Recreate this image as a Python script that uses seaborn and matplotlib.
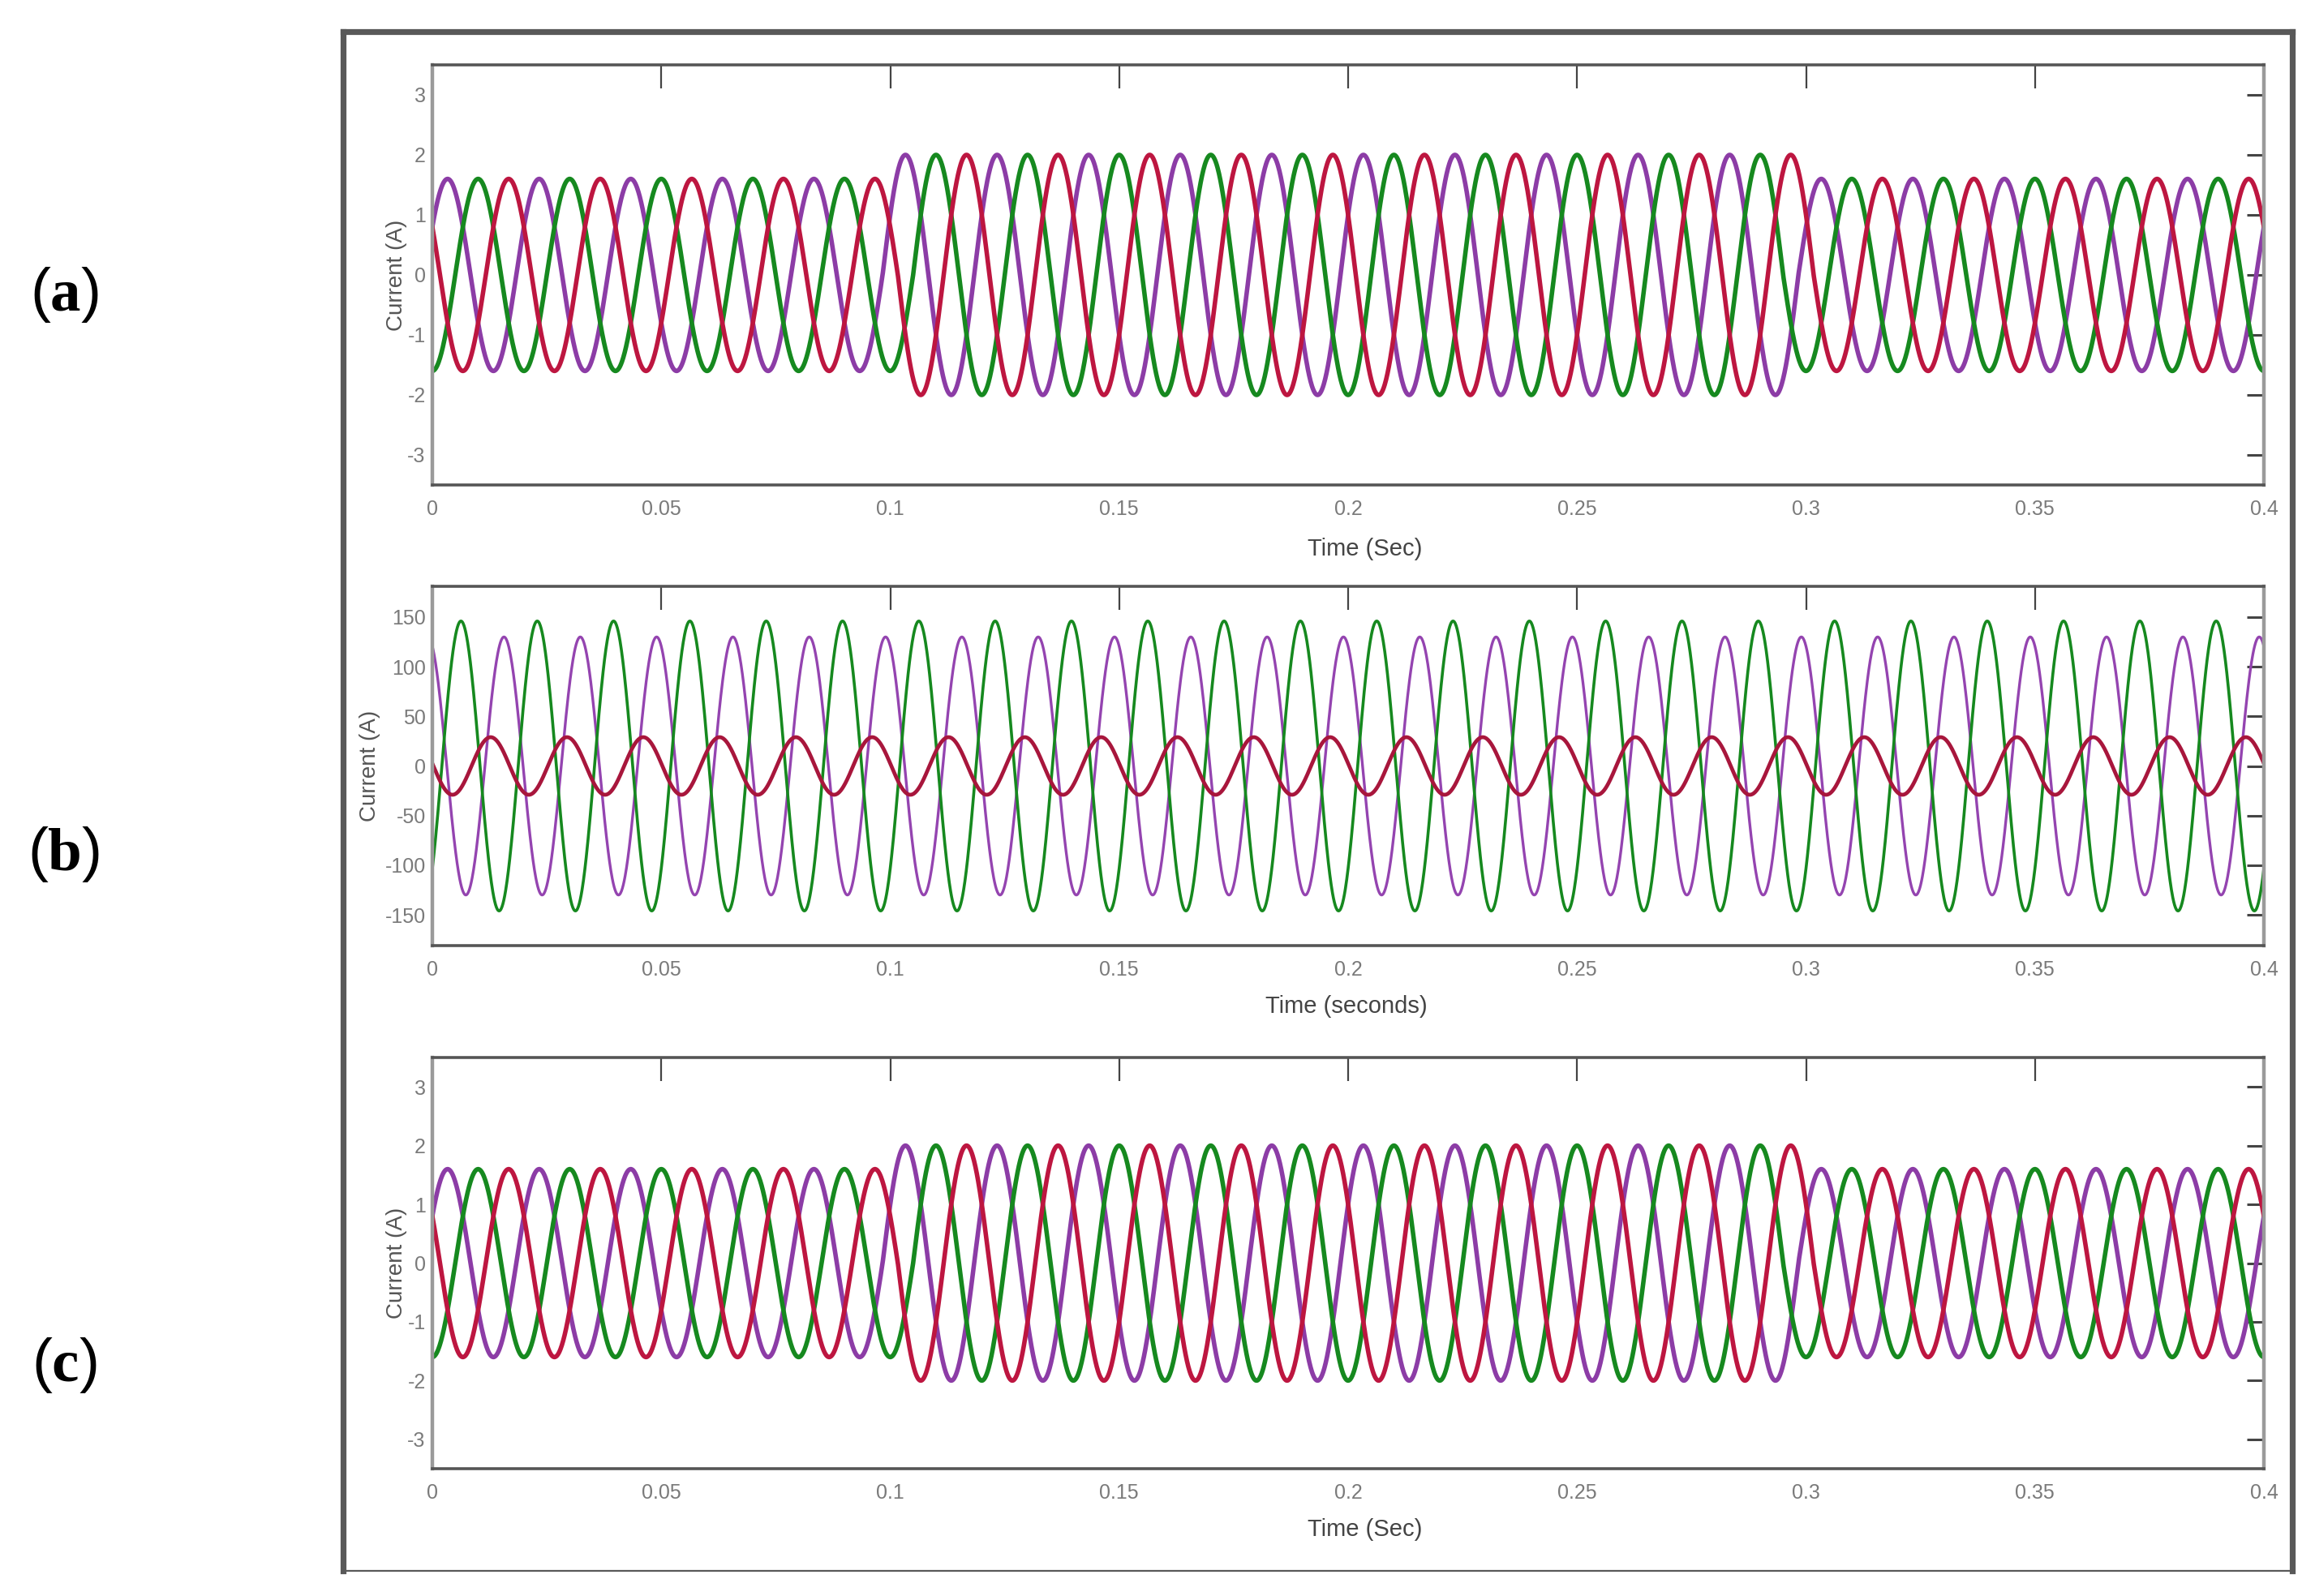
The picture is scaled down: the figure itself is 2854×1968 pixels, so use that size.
import numpy as np
import pandas as pd
import seaborn as sns
import matplotlib.pyplot as plt
from matplotlib.lines import Line2D

W, H = 2854, 1968

##################### values

time_ticks = [0, 0.05, 0.1, 0.15, 0.2, 0.25, 0.3, 0.35, 0.4]
time_tick_labels = ['0', '0.05', '0.1', '0.15', '0.2', '0.25', '0.3', '0.35', '0.4']
phase_names = ['purple', 'green', 'red']
phase_colors = {'purple': '#8c3ca6', 'green': '#16891f', 'red': '#bd1640'}

# panels (a) and (c): 50 Hz three phase current, amplitude up between ~0.1 s and ~0.3 s
# (each phase changes amplitude at its own zero crossing)
ac_freq = 50
ac_amp_normal = 1.6
ac_amp_fault = 2.0
ac_switch_on = [0.0983, 0.105, 0.1017]
ac_switch_off = [0.2983, 0.295, 0.3017]
ac_phase_deg = [60, 180, 300]
ac_ticks = [-3, -2, -1, 0, 1, 2, 3]

# panel (b): 60 Hz, unbalanced phases
b_freq = 60
b_amp = [130, 146, 29]
b_phase_deg = [338, 135, 275]
b_ticks = [-150, -100, -50, 0, 50, 100, 150]

##################### helpers

T = np.linspace(0, 0.4, 4001)


def wave_frame(freq, amps, phases):
    '''
    amps is a list of per-phase amplitude arrays or scalars.
    Returns a long dataframe: time, current, phase
    '''
    frames = []
    for name, amp, ph in zip(phase_names, amps, phases):
        y = amp * np.cos(2 * np.pi * freq * T - np.deg2rad(ph))
        frames.append(pd.DataFrame({'time': T, 'current': y, 'phase': name}))
    return pd.concat(frames, ignore_index=True)


def ac_frame():
    amps = []
    for on, off in zip(ac_switch_on, ac_switch_off):
        amps.append(np.where((T >= on) & (T < off), ac_amp_fault, ac_amp_normal))
    return wave_frame(ac_freq, amps, ac_phase_deg)


def px_axes(top, bottom, left=533, right=2791):
    return [left / W, 1 - bottom / H, (right - left) / W, (bottom - top) / H]


def style_axes(ax, yticks, ylim, xlabel, xlab_xy, ylab_x, lab_font):
    ax.set_xlim(0, 0.4)
    ax.set_ylim(*ylim)
    ax.set_xticks(time_ticks)
    ax.set_xticklabels(time_tick_labels)
    ax.set_yticks(yticks)
    ax.set_yticklabels([str(v) for v in yticks])
    ax.tick_params(axis='x', direction='in', length=21, width=1.6, top=True,
                   color='#444444', labelcolor='#7a7a7a', labelsize=18, pad=13)
    ax.tick_params(axis='y', direction='in', length=15, width=2.2, right=True,
                   color='#444444', labelcolor='#7a7a7a', labelsize=18, pad=6)
    for lab in ax.get_xticklabels() + ax.get_yticklabels():
        lab.set_family(lab_font)
    for side in ['top', 'bottom']:
        ax.spines[side].set_color('#555555')
        ax.spines[side].set_linewidth(2.6)
    for side in ['left', 'right']:
        ax.spines[side].set_color('#9a9a9a')
        ax.spines[side].set_linewidth(3.2)
    ax.set_xlabel(xlabel, fontsize=21, color='#444444', family=lab_font)
    ax.xaxis.set_label_coords(*xlab_xy)
    ax.xaxis.label.set_va('center')
    ax.set_ylabel('Current (A)', fontsize=20, color='#555555', family=lab_font)
    ax.yaxis.set_label_coords(ylab_x, 0.5)
    ax.yaxis.label.set_va('center')


#####################

sns.set_style('white')
plt.rcParams['font.family'] = ['Liberation Sans', 'DejaVu Sans']
plt.rcParams['mathtext.fontset'] = 'custom'
plt.rcParams['mathtext.rm'] = 'Liberation Serif'
plt.rcParams['mathtext.bf'] = 'Liberation Serif:bold'
lab_font = ['Liberation Sans']

fig = plt.figure(figsize=(W / 100, H / 100), dpi=100)

ax_a = fig.add_axes(px_axes(80, 598))
ax_b = fig.add_axes(px_axes(723, 1166))
ax_c = fig.add_axes(px_axes(1304, 1811))

df_ac = ac_frame()
df_b = wave_frame(b_freq, b_amp, b_phase_deg)

for ax in [ax_a, ax_c]:
    for name in phase_names:
        sns.lineplot(data=df_ac[df_ac.phase == name], x='time', y='current',
                     color=phase_colors[name], linewidth=4.0, estimator=None, ax=ax)

b_widths = {'purple': 2.4, 'green': 2.6, 'red': 3.4}
b_colors = {'purple': '#9444b0', 'green': '#16891f', 'red': '#a8163c'}
for name in phase_names:
    sns.lineplot(data=df_b[df_b.phase == name], x='time', y='current',
                 color=b_colors[name], linewidth=b_widths[name], estimator=None, ax=ax_b)

style_axes(ax_a, ac_ticks, (-3.5, 3.5), 'Time (Sec)', (0.5093, -0.1525), -0.0195, lab_font)
style_axes(ax_b, b_ticks, (-181, 181), 'Time (seconds)', (0.499, -0.17), -0.034, lab_font)
style_axes(ax_c, ac_ticks, (-3.5, 3.5), 'Time (Sec)', (0.5093, -0.148), -0.0195, lab_font)

# outer frame round the three panels (bottom edge is thinner in the picture)
def fig_line(x0, y0, x1, y1, lw):
    fig.add_artist(Line2D([x0 / W, x1 / W], [1 - y0 / H, 1 - y1 / H],
                          transform=fig.transFigure, color='#595959',
                          linewidth=lw, solid_capstyle='projecting'))

fig_line(422.5, 38.5, 2826, 38.5, 5.2)
fig_line(422.5, 38.5, 422.5, 1937, 5.2)
fig_line(2826, 38.5, 2826, 1937, 5.2)
fig_line(422.5, 1937, 2826, 1937, 1.6)

# panel letters
for letter, y in zip(['a', 'b', 'c'], [364, 1053, 1683]):
    fig.text(79 / W, 1 - y / H, r'($\mathbf{' + letter + r'}$)', fontsize=54,
             ha='center', va='center', color='black')

fig.savefig('out.png', dpi=100)
